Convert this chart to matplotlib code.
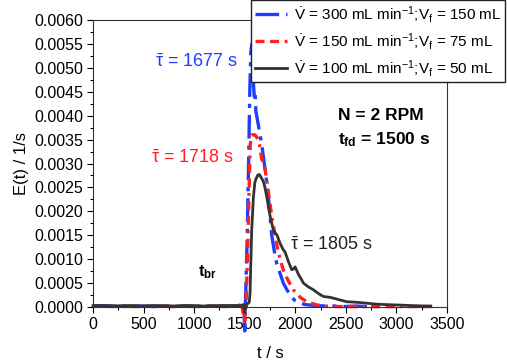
import matplotlib
matplotlib.use('Agg')
import matplotlib.pyplot as plt

plt.rcParams['font.family'] = ['Liberation Sans', 'DejaVu Sans']
plt.rcParams['mathtext.fontset'] = 'custom'
plt.rcParams['mathtext.rm'] = 'Liberation Sans'
plt.rcParams['mathtext.it'] = 'Liberation Sans:italic'
plt.rcParams['mathtext.bf'] = 'Liberation Sans:bold'
plt.rcParams['lines.scale_dashes'] = False

# 300 mL/min
t_blue = [0, 100, 200, 300, 400, 500, 600, 700, 800, 900, 1000, 1100, 1200, 1300, 1400,
          1450, 1470, 1490, 1500, 1510, 1525, 1540, 1550, 1560, 1570, 1580, 1588, 1595,
          1602, 1610, 1635, 1668, 1700, 1730, 1750, 1767, 1790, 1817, 1850, 1882, 1920,
          1965, 2000, 2050, 2100, 2200, 2300, 2400, 2500, 2600, 2700, 2800, 2850]
e_blue = [0.00002, 0.00003, 0.00002, 0.00001, 0.00002, 0.00002, 0.00001, 0.00002, 0.00001,
          0.00002, 0.00001, 0.00002, 0.00001, 0.00002, 0.00002,
          0.00003, 0.00012, 0.0001, -0.0005, 0.0003, 0.0015, 0.0032, 0.0045, 0.0053, 0.0055,
          0.0054, 0.0046, 0.0044, 0.0045, 0.0041, 0.0038, 0.0034, 0.0029, 0.0024, 0.0019,
          0.0015, 0.0012, 0.0009, 0.0007, 0.0005, 0.00035, 0.0002, 0.00013, 0.00008, 0.00005,
          0.00003, 0.00002, 0.00002, 0.00001, 0.00002, 0.00001, 0.00001, 0.00001]

# 150 mL/min
t_red = [0, 100, 200, 300, 400, 500, 600, 700, 800, 900, 1000, 1100, 1200, 1300, 1400,
         1470, 1500, 1515, 1530, 1545, 1555, 1568, 1585, 1600, 1620, 1645, 1668, 1700, 1734,
         1767, 1800, 1817, 1850, 1882, 1930, 1981, 2050, 2113, 2200, 2275, 2400, 2600, 2800,
         3000, 3200, 3340]
e_red = [0.00001, 0.00002, 0.00001, 0.00002, 0.00001, 0.00001, 0.00002, 0.00001, 0.00001,
         0.00002, 0.00001, 0.00001, 0.00002, 0.00001, 0.00002,
         0.00005, -0.0003, 0.0002, 0.0012, 0.0026, 0.0034, 0.0036, 0.0036, 0.0036, 0.00355,
         0.0034, 0.0031, 0.0029, 0.0024, 0.0019, 0.0015, 0.0013, 0.001, 0.00077, 0.00055,
         0.00036, 0.0002, 0.00011, 0.00005, 0.00002, 0.00001, 0.00001, 0.00001, 0.00001,
         0.00001, 0.00001]

# 100 mL/min
t_black = [0, 100, 200, 300, 400, 500, 600, 700, 800, 900, 1000, 1100, 1200, 1300, 1400,
           1450, 1490, 1500, 1520, 1545, 1553, 1560, 1569, 1586, 1600, 1612, 1630, 1645,
           1665, 1685, 1700, 1718, 1751, 1784, 1820, 1850, 1880, 1899, 1932, 1965, 1985,
           1998, 2015, 2031, 2060, 2080, 2130, 2179, 2230, 2278, 2350, 2420, 2509, 2600,
           2707, 2800, 2900, 3037, 3150, 3300, 3340]
e_black = [0.00003, 0.00003, 0.00002, 0.00003, 0.00003, 0.00002, 0.00003, 0.00003, 0.00002,
           0.00003, 0.00003, 0.00002, 0.00003, 0.00003, 0.00003,
           0.00003, 0.00005, -0.00012, 0.00005, 0.0001, 0.0003, 0.0009, 0.0016, 0.0023,
           0.0026, 0.00268, 0.00276, 0.00277, 0.0027, 0.00262, 0.0025, 0.0023, 0.0019,
           0.0016, 0.0015, 0.00133, 0.0012, 0.00115, 0.00095, 0.00078, 0.0008, 0.00084,
           0.00076, 0.00068, 0.00058, 0.0005, 0.00042, 0.00036, 0.00028, 0.00022, 0.0002,
           0.00016, 0.00011, 0.0001, 0.00008, 0.00006, 0.00005, 0.00004, 0.00003, 0.00002,
           0.00002]

labels = [r'$\dot{\mathrm{V}}$ = 300 mL min$^{-1}$;V$_\mathrm{f}$ = 150 mL',
          r'$\dot{\mathrm{V}}$ = 150 mL min$^{-1}$;V$_\mathrm{f}$ = 75 mL',
          r'$\dot{\mathrm{V}}$ = 100 mL min$^{-1}$;V$_\mathrm{f}$ = 50 mL']

blue = '#1f3dff'
red = '#ff2020'
black = '#333333'

fig = plt.figure(figsize=(5.07, 3.6), dpi=100)
ax = fig.add_axes([0.1834, 0.1472, 0.6983, 0.7972])

ax.plot(t_blue, e_blue, color=blue, lw=2.4, ls=(0, (17, 5, 3, 5)), label=labels[0], clip_on=False)
ax.plot(t_red, e_red, color=red, lw=2.4, ls=(0, (6.5, 4, 6.5, 4, 2, 4)), label=labels[1], clip_on=False)
ax.plot(t_black, e_black, color=black, lw=2.0, label=labels[2], clip_on=False)

ax.set_xlim(0, 3500)
ax.set_ylim(0, 0.006)
ax.set_xticks(range(0, 3501, 500))
ax.set_xticks(range(250, 3500, 500), minor=True)
ax.set_yticks([i * 0.0005 for i in range(13)])
ax.set_yticks([0.00025 + i * 0.0005 for i in range(12)], minor=True)
ax.set_yticklabels(['%.4f' % (i * 0.0005) for i in range(13)])
ax.tick_params(which='major', direction='out', length=4, width=0.8, labelsize=11.5, pad=3)
ax.tick_params(which='minor', direction='out', length=2, width=0.8)
for s in ax.spines.values():
    s.set_linewidth(0.8)
    s.set_color('#333333')

ax.set_xlabel('t / s', fontsize=12, labelpad=10)
ax.set_ylabel('E(t) / 1/s', fontsize=12, labelpad=4)

ax.text(613, 0.00512, r'$\bar{\mathrm{\tau}}$ = 1677 s', color=blue, fontsize=13, va='center')
ax.text(573, 0.00311, r'$\bar{\mathrm{\tau}}$ = 1718 s', color=red, fontsize=13, va='center')
ax.text(1948, 0.0013, r'$\bar{\mathrm{\tau}}$ = 1805 s', color='#222222', fontsize=13, va='center')
ax.text(1038, 0.00073, r'$\mathbf{t_{br}}$', fontsize=12, va='center')
ax.text(2423, 0.00401, 'N = 2 RPM', fontsize=12.5, fontweight='bold', va='center')
ax.text(2423, 0.00349, r'$\mathbf{t_{fd}}$ = 1500 s', fontsize=12.5, fontweight='bold', va='center')

leg = fig.legend(loc='upper right', bbox_to_anchor=(0.997, 0.999), fontsize=11,
                 frameon=True, fancybox=False, edgecolor='#222222', framealpha=1,
                 handlelength=2.1, handletextpad=0.45, borderpad=0.25, labelspacing=0.4,
                 borderaxespad=0)
leg.get_frame().set_linewidth(1.0)

fig.savefig('out.png', dpi=100)
